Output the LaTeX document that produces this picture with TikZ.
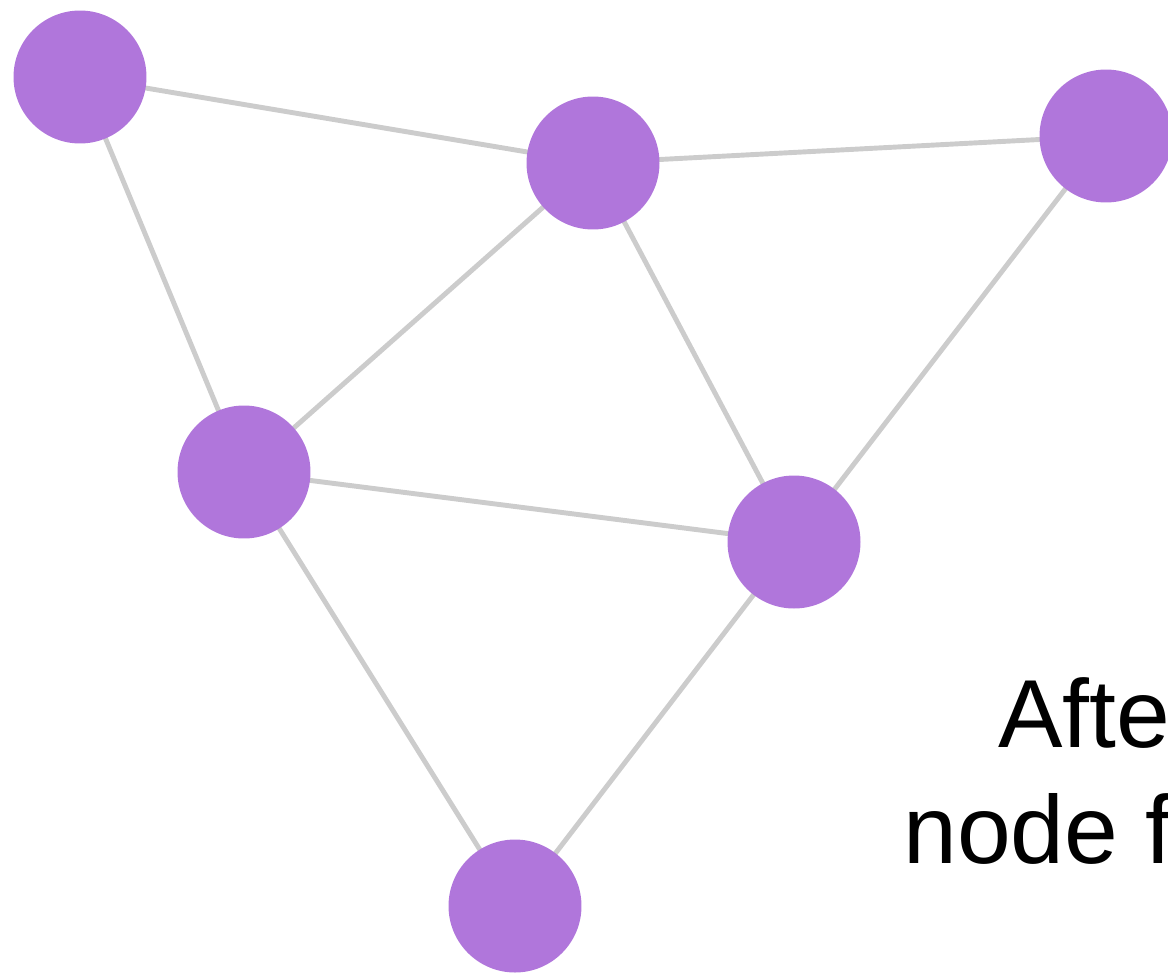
\documentclass[tikz,border=0pt]{standalone}
\usepackage{fontspec}
\setmainfont{Liberation Sans}
\definecolor{nodepurple}{RGB}{176,118,219}
\definecolor{edgegray}{RGB}{204,204,204}
\begin{document}
\begin{tikzpicture}[x=0.02cm, y=-0.02cm,
      vertex/.style = {shape=circle, fill=nodepurple, draw=none,
        minimum size=2.66cm, inner sep=0pt},
      link/.style = {draw=edgegray, line width=2.8pt},
      caption/.style = {anchor=base west, inner sep=0pt,
        font=\fontsize{55}{66}\selectfont}]
      \useasboundingbox (0,0) rectangle (1168,974);
      % edges first, so the circles sit on top
      \coordinate (a) at (80,77);
      \coordinate (b) at (593,163);
      \coordinate (c) at (1106,136);
      \coordinate (d) at (244,472);
      \coordinate (e) at (794,542);
      \coordinate (f) at (515,906);
      \draw[link] (a) -- (b) -- (c)
        (a) -- (d) -- (b) -- (e) -- (c)
        (d) -- (e) -- (f) -- (d);
      \foreach \n in {a,b,c,d,e,f}
        \node[vertex] (v\n) at (\n) {};
      \node[caption] (after) at (998,747) {After};
      \node[caption] (nodefo) at (903,863) {node fo};
    \end{tikzpicture}
\end{document}
